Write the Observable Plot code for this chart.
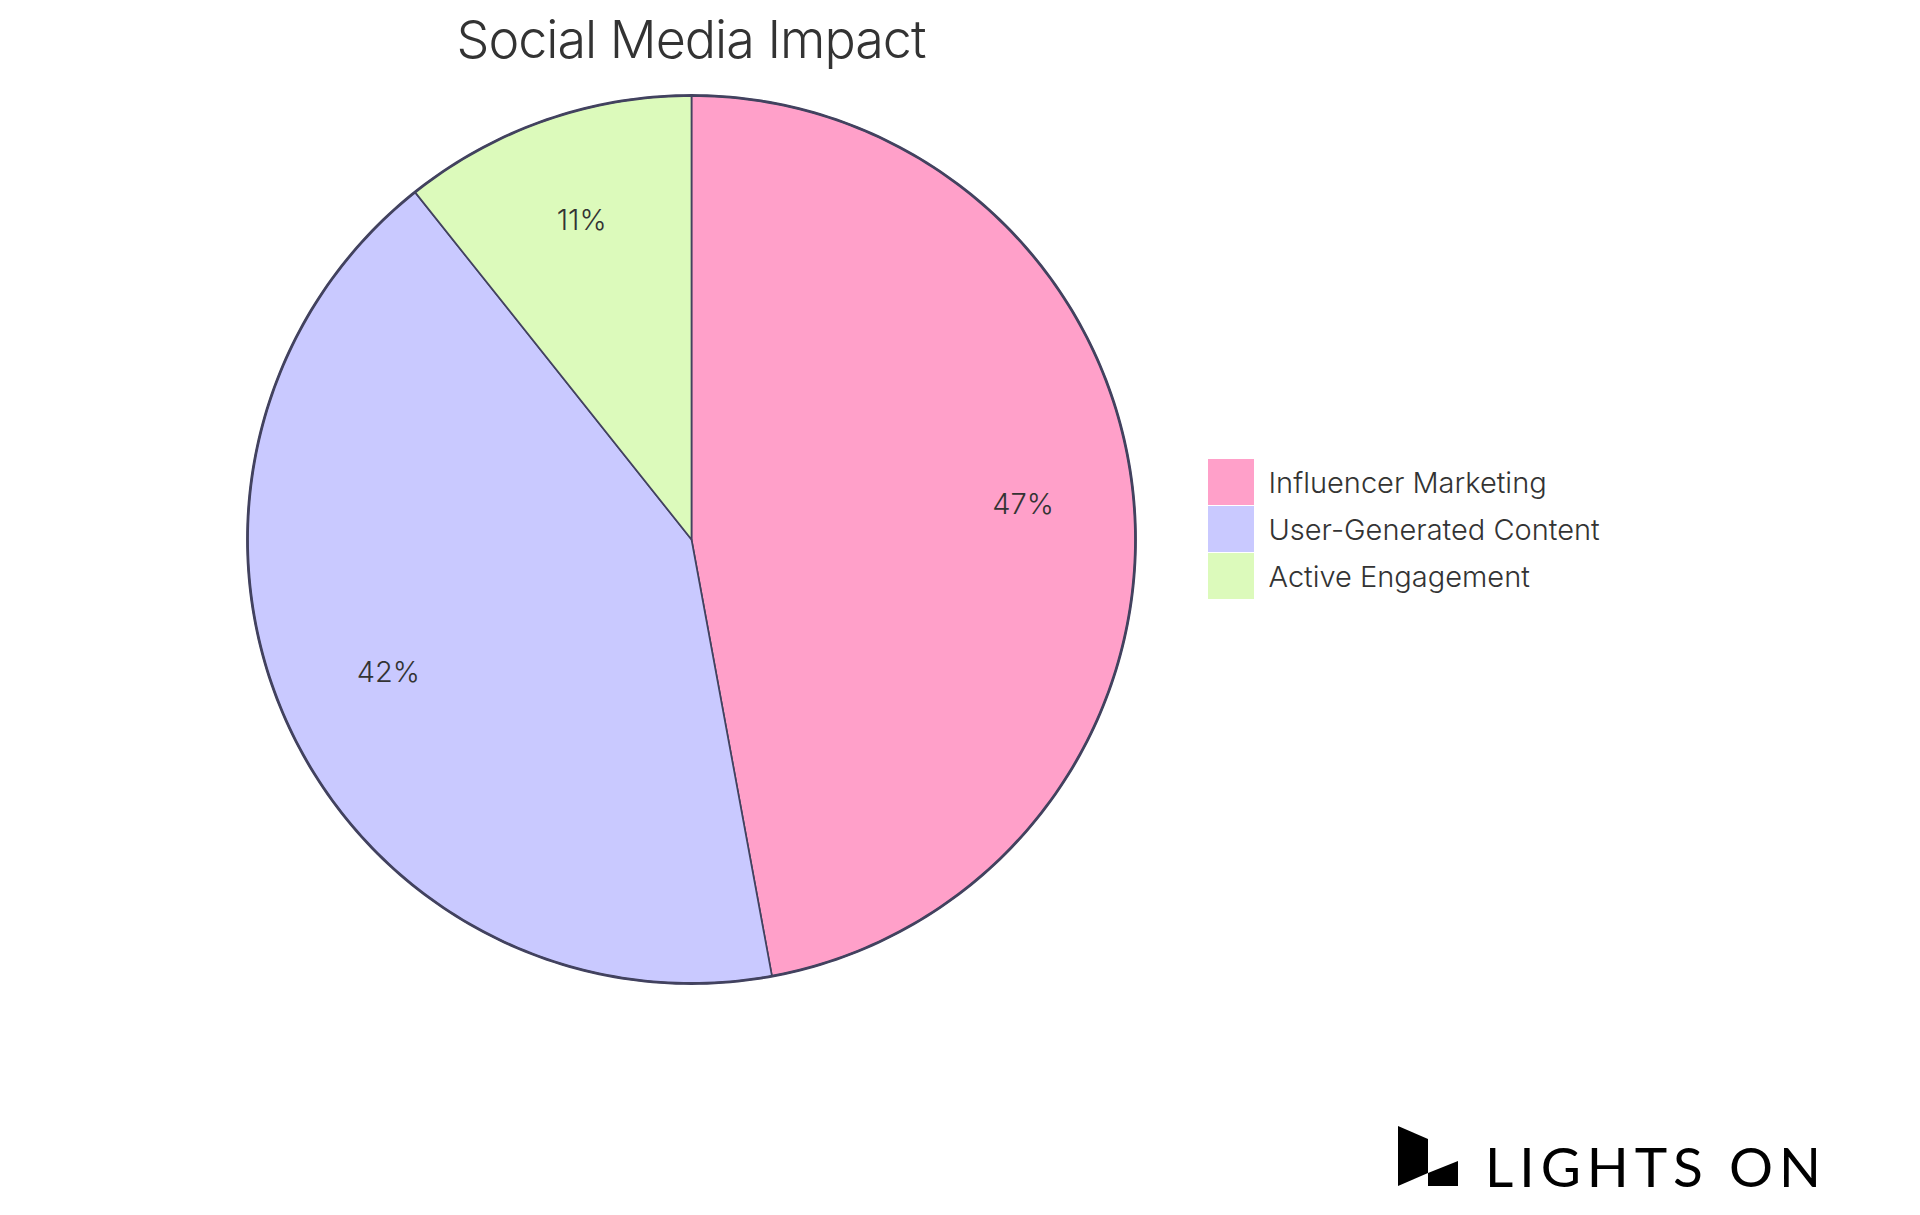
<!DOCTYPE html>
<html lang="en">
<head>
<meta charset="utf-8">
<title>Social Media Impact</title>
<script src="https://cdn.jsdelivr.net/npm/d3@7"></script>
<script src="https://cdn.jsdelivr.net/npm/@observablehq/plot@0.6"></script>
<style>
  html, body { margin: 0; padding: 0; background: #fff; }
  body { position: relative; width: 1920px; height: 1215px; overflow: hidden; font-family: Inter, sans-serif; color: #333; }
  #chart { position: absolute; left: 0; top: 0; }
  #chart svg { display: block; }
  h1 { position: absolute; left: 291px; width: 800px; top: 8px; margin: 0; text-align: center; font-size: 52px; line-height: 64px; font-weight: 300; color: #333; letter-spacing: -1px; }
  #legend { position: absolute; left: 1208px; top: 459px; }
  #logo { position: absolute; left: 1398px; top: 1126px; }
</style>
</head>
<body>
<div id="chart"></div>
<h1>Social Media Impact</h1>
<div id="legend"></div>
<svg id="logo" width="430" height="64" viewBox="0 0 430 64">
  <polygon points="0,0 30,13 30,47 0,60" fill="#000"/>
  <polygon points="30,47 60,35 60,60 30,60" fill="#000"/>
  <text x="87" y="60.5" font-family="Lato" font-size="55" font-weight="400" fill="#000" textLength="336" lengthAdjust="spacing">LIGHTS ON</text>
</svg>
<script>
const categories = ["Influencer Marketing", "User-Generated Content", "Active Engagement"];
const shares = [47.1, 42.2, 10.7];
const colors = ["#FFA0C9", "#C9C9FF", "#DCFABB"];
const outline = "#42425F";
const textColor = "#333333";
const fontFamily = "Inter, sans-serif";

const pie = d3.pie().sort(null)(shares);

// Outline of each slice, in the unit circle that the x and y scales map onto the page.
const unit = (angle, r = 1) => ({x: r * Math.sin(angle), y: r * Math.cos(angle)});
const slices = pie.flatMap((p, i) => {
  const steps = Math.ceil((p.endAngle - p.startAngle) / (Math.PI / 180));
  const arc = d3.range(steps + 1).map((k) => unit(p.startAngle + (p.endAngle - p.startAngle) * k / steps));
  return [{x: 0, y: 0}, ...arc].map((pt) => ({...pt, category: categories[i]}));
});
const rim = d3.range(0, 361).map((deg) => unit(deg * Math.PI / 180));
const labels = pie.map((p, i) => ({
  ...unit((p.startAngle + p.endAngle) / 2, 0.75),
  label: d3.format(".0f")(shares[i]) + "%"
}));

const plot = Plot.plot({
  width: 1920,
  height: 1215,
  margin: 0,
  style: {background: "transparent", fontFamily},
  x: {domain: [-1, 1], range: [247, 1135], axis: null},
  y: {domain: [-1, 1], range: [983, 95], axis: null},
  color: {domain: categories, range: colors},
  marks: [
    Plot.line(slices, {x: "x", y: "y", z: "category", fill: "category", stroke: outline, strokeWidth: 1.7, curve: "linear-closed"}),
    Plot.line(rim, {x: "x", y: "y", stroke: outline, strokeWidth: 2.8, curve: "linear-closed"}),
    Plot.text(labels, {x: "x", y: "y", text: "label", fontSize: 29, fontWeight: 300, fill: textColor, textAnchor: "middle", lineAnchor: "bottom", dy: 5})
  ]
});
document.getElementById("chart").append(plot);

const legend = plot.legend("color", {columns: 1, swatchSize: 46, style: {fontFamily, fontSize: "29px", fontWeight: 300, color: textColor, margin: 0}});
document.getElementById("legend").append(legend);
</script>
</body>
</html>
